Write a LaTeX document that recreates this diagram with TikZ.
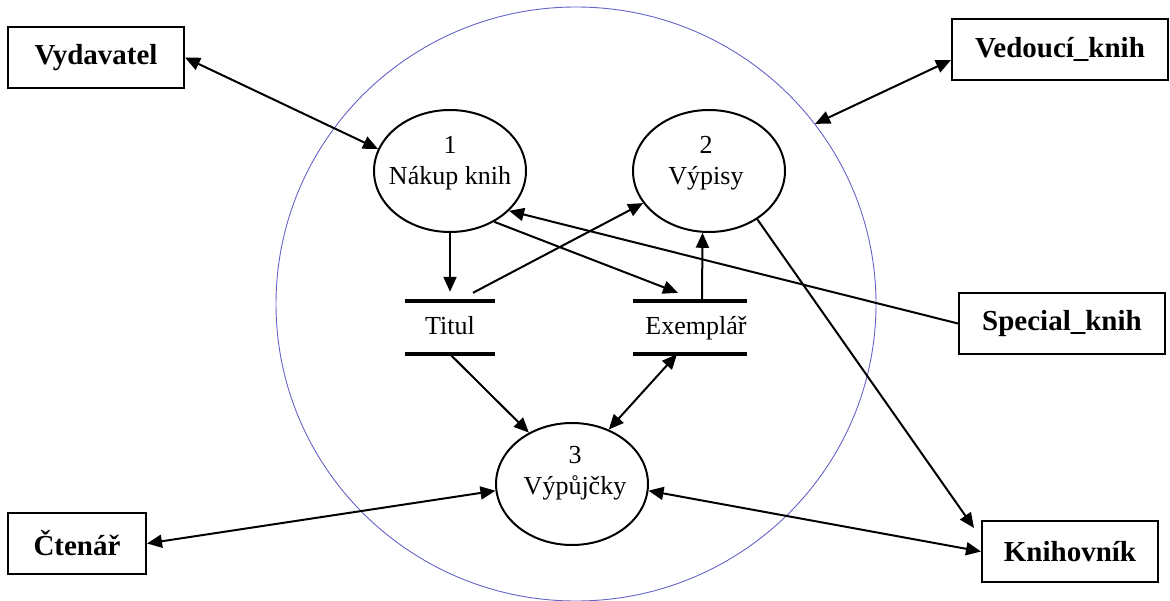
\documentclass[tikz,border=0pt]{standalone}
\usepackage{fontspec}
\setmainfont{Liberation Serif}
\usetikzlibrary{arrows.meta,shapes.geometric}
\definecolor{ctxblue}{RGB}{100,100,200}
\begin{document}
\begin{tikzpicture}[x=1pt,y=-1pt,
  txt/.style={font=\fontsize{26}{31}\selectfont, align=center, inner sep=0pt},
  ent/.style={draw, line width=2pt, rectangle, inner sep=0pt, minimum height=61pt, font=\fontsize{29}{34}\selectfont\bfseries},
  proc/.style={draw, line width=2pt, ellipse, minimum width=152pt, minimum height=122pt, inner sep=0pt},
  store/.style={rectangle, inner sep=0pt, minimum height=53pt},
  storeline/.style={line width=4.5pt},
  flow/.style={line width=2pt, -{Triangle[length=15pt,width=13pt]}},
  biflow/.style={line width=2pt, {Triangle[length=15pt,width=13pt]}-{Triangle[length=15pt,width=13pt]}},
  ctx/.style={draw=ctxblue, line width=0.9pt, ellipse, minimum width=600pt, minimum height=594pt, inner sep=0pt}
]
\useasboundingbox (0,0) rectangle (1170,601);

% context circle
\node[ctx] (ctx) at (576,304) {};

% processes
\node[proc] (e1) at (450,171) {};
\node[txt] (e1t) at (450,163) {1\\Nákup knih};
\node[proc] (e2) at (709,171) {};
\node[txt] (e2t) at (706,163) {2\\Výpisy};
\node[proc] (e3) at (572,484) {};
\node[txt] (e3t) at (575,473) {3\\Výpůjčky};

% data stores
\node[store, minimum width=90pt] (tit) at (450,327.5) {};
\node[txt, anchor=base] (titt) at (450,335) {Titul};
\draw[storeline] (tit.north west) -- (tit.north east);
\draw[storeline] (tit.south west) -- (tit.south east);
\node[store, minimum width=114pt] (exm) at (690,327.5) {};
\node[txt, anchor=base] (exmt) at (696,335) {Exemplář};
\draw[storeline] (exm.north west) -- (exm.north east);
\draw[storeline] (exm.south west) -- (exm.south east);

% external entities
\node[ent, minimum width=176pt] (vyd) at (96,57.5) {Vydavatel};
\node[ent, minimum width=216pt] (ved) at (1060,49.5) {Vedoucí\_knih};
\node[ent, minimum width=206pt] (spec) at (1062,323.5) {Special\_knih};
\node[ent, minimum width=176pt] (kni) at (1070,551.5) {Knihovník};
\node[ent, minimum width=138pt] (cte) at (77,543.5) {Čtenář};

% connectors
\draw[biflow] (vyd.east) -- (e1.163);
\draw[biflow] ([yshift=-10.5pt]ved.west) -- (ctx.37);
\draw[flow] (e1.south) -- ([yshift=9pt]tit.north);
\draw[flow] ([xshift=23pt,yshift=8pt]tit.north) -- (e2.206);
\draw[flow] (e1.-49) -- ([xshift=-12pt,yshift=8pt]exm.north);
\draw[flow] ([xshift=12pt]exm.north) -- (e2.264);
\draw[flow] (spec.west) -- (e1.-34);
\draw[flow] (e2.-45) -- ([xshift=-7pt,yshift=23.5pt]kni.west);
\draw[flow] (tit.south) -- (e3.130);
\draw[biflow] ([xshift=-13pt]exm.south) -- (e3.56);
\draw[biflow] (cte.east) -- (e3.185);
\draw[biflow] (e3.-5) -- (kni.west);
\end{tikzpicture}
\end{document}
